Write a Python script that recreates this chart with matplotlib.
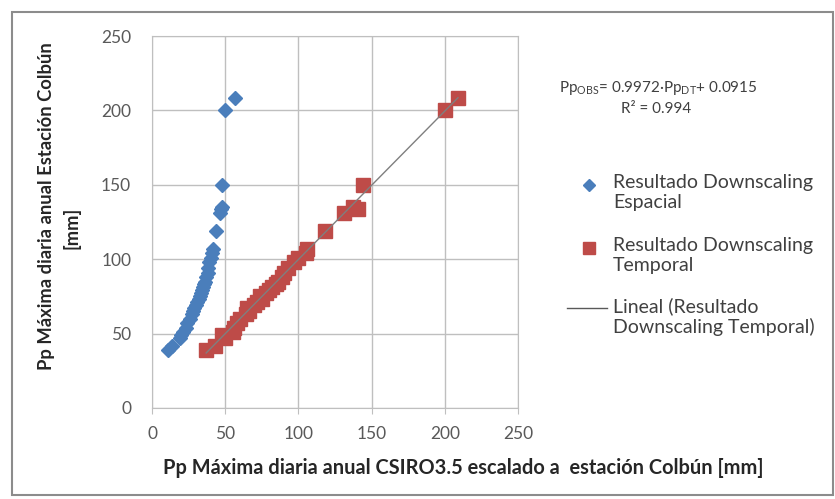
import matplotlib.pyplot as plt
from matplotlib.patches import Rectangle
from matplotlib.lines import Line2D
import numpy as np

plt.rcParams['font.family'] = ['Lato', 'DejaVu Sans']
plt.rcParams['mathtext.fontset'] = 'custom'
plt.rcParams['mathtext.rm'] = 'Lato'

# observed annual max daily precipitation (y), shared by both series
y_obs = [39, 42, 47, 49, 51, 54, 57, 60, 63, 65, 67, 69, 71, 73, 75, 77, 79, 81,
         83, 85, 88, 91, 94, 98, 101, 104, 107, 119, 131, 134, 135, 150, 200, 208]
# spatial downscaling (blue diamonds)
x_esp = [11, 14, 19, 20, 21, 23, 24, 26, 27, 28, 29, 30, 31, 32, 33, 33.5, 34, 35,
         35.5, 36, 37, 38, 38.5, 39, 40, 41, 42, 44, 46.5, 47, 47.5, 48, 50, 56.5]
# temporal downscaling (red squares)
x_tem = [37, 43, 50, 48, 55, 56, 58, 60, 64, 66, 65, 70, 72, 75, 74, 78, 80, 82,
         85, 86, 89, 90, 93, 97, 100, 105, 106, 118, 131, 141, 137, 144, 200, 209]

slope, intercept = 0.9972, 0.0915
ticks = [0, 50, 100, 150, 200, 250]
blue, red, gray = '#4a7ebb', '#be4b48', '#7f7f7f'
txt = '#404040'

fig = plt.figure(figsize=(8.35, 4.99), dpi=100)
W, H = 835, 499
ax = fig.add_axes([152/W, 1-408/H, 366/W, 372/H])

ax.plot(x_esp, y_obs, 'D', color=blue, markersize=7, zorder=3)
ax.plot(x_tem, y_obs, 's', color=red, markersize=9.5, zorder=3)
xl = np.array([min(x_tem), max(x_tem)])
ax.plot(xl, slope*xl + intercept, '-', color=gray, lw=1, zorder=4)

ax.set_xlim(0, 250)
ax.set_ylim(0, 250)
ax.set_xticks(ticks)
ax.set_yticks(ticks)
ax.grid(True, color='#bfbfbf', lw=1)
ax.set_axisbelow(True)
for s in ax.spines.values():
    s.set_color('#bfbfbf')
ax.tick_params(axis='x', colors='#595959', labelsize=12.5, length=4, color='#bfbfbf', pad=9)
ax.tick_params(axis='y', colors='#595959', labelsize=12.5, length=0, pad=15)

# axis titles
fig.text(463/W, 1-468/H, 'Pp Máxima diaria anual CSIRO3.5 escalado a  estación Colbún [mm]',
         ha='center', va='center', fontsize=14.4, fontweight='bold', color='#262626')
fig.text(47/W, 1-206/H, 'Pp Máxima diaria anual Estación Colbún', rotation=90,
         ha='center', va='center', fontsize=13.2, fontweight='bold', color='#262626')
fig.text(71/W, 1-228/H, '[mm]', rotation=90,
         ha='center', va='center', fontsize=13.2, fontweight='bold', color='#262626')

# trendline equation
fig.text(658/W, 1-88/H, r'Pp$_{\mathrm{OBS}}$= 0.9972·Pp$_{\mathrm{DT}}$+ 0.0915',
         ha='center', va='center', fontsize=11, color=txt)
fig.text(656/W, 1-109/H, 'R² = 0.994', ha='center', va='center', fontsize=11, color=txt)

# legend
entries = [('D', blue, 6, 'Resultado Downscaling\nEspacial', 185),
           ('s', red, 8, 'Resultado Downscaling\nTemporal', 248),
           ('-', gray, 0, 'Lineal (Resultado\nDownscaling Temporal)', 308)]
for mk, col, ms, lab, yy in entries:
    if mk == '-':
        fig.add_artist(Line2D([567/W, 607/W], [1-yy/H, 1-yy/H], color='#595959', lw=1))
    else:
        fig.add_artist(Line2D([589/W], [1-yy/H], marker=mk, color=col, markersize=ms, ls=''))
    fig.text(613/W, 1-(yy-11)/H, lab, ha='left', va='top', fontsize=14, color=txt,
             linespacing=1.2)

fig.patches.append(Rectangle((12/W, 4/H), 821/W, 483/H, transform=fig.transFigure,
                             fill=False, edgecolor='#8c8c8c', lw=1.5))

fig.savefig('out.png', dpi=100)
